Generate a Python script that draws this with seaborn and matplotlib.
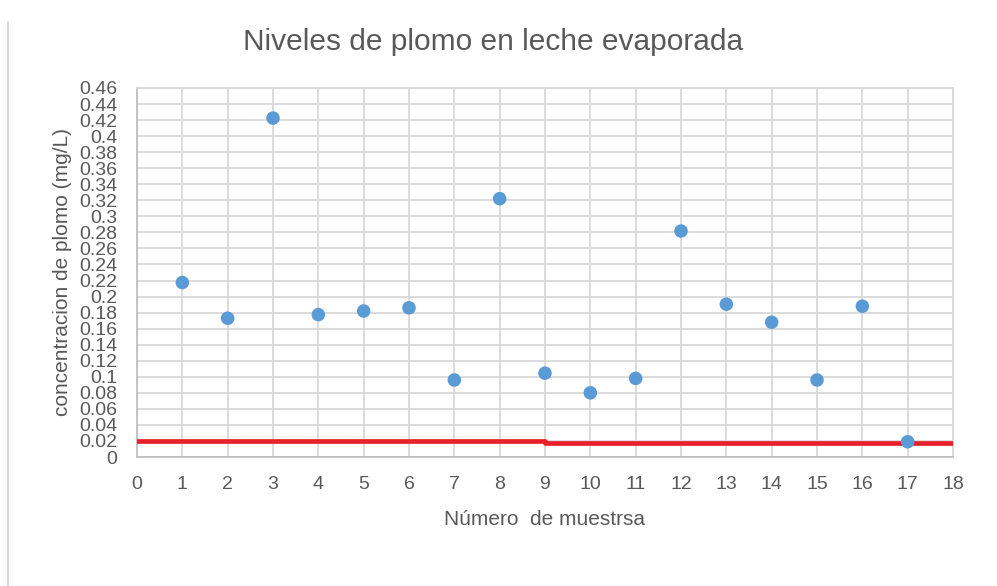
import matplotlib
matplotlib.use("Agg")
import matplotlib.pyplot as plt
from matplotlib.lines import Line2D
import seaborn as sns
import pandas as pd
import numpy as np

# ---- data ----
muestras = [1, 2, 3, 4, 5, 6, 7, 8, 9, 10, 11, 12, 13, 14, 15, 16, 17]
plomo = [0.2175, 0.173, 0.4225, 0.1775, 0.182, 0.186, 0.096, 0.322, 0.1045,
         0.080, 0.098, 0.2817, 0.1905, 0.168, 0.096, 0.188, 0.019]
limite_x = [0, 9, 9, 18]
limite_y = [0.02, 0.02, 0.018, 0.018]
titulo = "Niveles de plomo en leche evaporada"
etiqueta_x = "Número  de muestrsa"
etiqueta_y = "concentracion de plomo (mg/L)"
yticks = [round(0.02 * i, 2) for i in range(24)]
xticks = list(range(0, 19))

sns.set_theme(style="white")
plt.rcParams['font.family'] = ['Liberation Sans', 'DejaVu Sans']

txt = "#595959"
grid = "#d9d9d9"

fig = plt.figure(figsize=(9.97, 5.86), dpi=100)
ax = fig.add_axes([137/997, 1 - 457/586, (953 - 137)/997, (457 - 88)/586])

df = pd.DataFrame({"x": muestras, "y": plomo})
lim = pd.DataFrame({"x": limite_x, "y": limite_y})

sns.lineplot(data=lim, x="x", y="y", sort=False, estimator=None, color="#e8202a",
             linewidth=3.4, ax=ax, zorder=3)
sns.scatterplot(data=df, x="x", y="y", color="#5b9bd5", s=95, edgecolor="none",
                ax=ax, zorder=4)

ax.set_xlim(0, 18)
ax.set_ylim(0, 0.46)
ax.set_xticks(xticks)
ax.set_yticks(yticks)
ax.set_xticklabels([str(v) for v in xticks])
ax.set_yticklabels([("%g" % v) for v in yticks])
ax.grid(True, color=grid, linewidth=1.3)
ax.set_axisbelow(True)
for s in ["top", "right"]:
    ax.spines[s].set_color(grid)
    ax.spines[s].set_linewidth(1.3)
for s in ["left", "bottom"]:
    ax.spines[s].set_color("#bfbfbf")
    ax.spines[s].set_linewidth(1.3)
ax.tick_params(axis="both", length=0, colors=txt, labelsize=14)
ax.tick_params(axis="y", pad=14)
ax.tick_params(axis="x", pad=14)

ax.set_xlabel(etiqueta_x, color=txt, fontsize=15, labelpad=12)
ax.set_ylabel(etiqueta_y, color=txt, fontsize=15, labelpad=5)
fig.text(493/997, 1 - 42/586, titulo, ha="center", va="center", color=txt, fontsize=21.5)

# left border of chart frame
fig.add_artist(Line2D([8/997, 8/997], [0, 1 - 22/586], color="#d0d0d0", linewidth=1.2))

fig.savefig("out.png", dpi=100, facecolor="white")
